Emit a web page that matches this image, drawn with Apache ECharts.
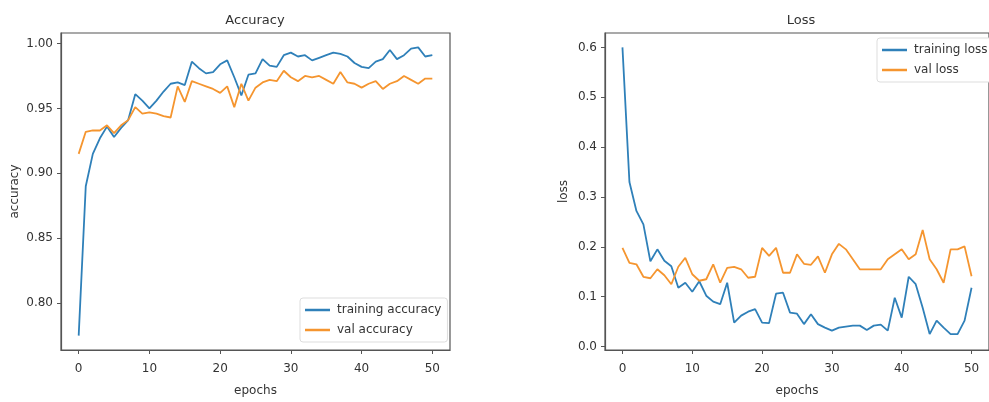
<!DOCTYPE html>
<html>
<head>
<meta charset="utf-8">
<script src="https://cdn.jsdelivr.net/npm/echarts@6/dist/echarts.min.js"></script>
<style>
    html, body { margin: 0; padding: 0; background: #fff; }
    #chart { width: 989px; height: 402px; }
</style>
</head>
<body>
<div id="chart"></div>
<script>
// epochs 0..50
const epochs = Array.from({ length: 51 }, (_, i) => i)

const trainAcc = [0.775, 0.890, 0.915, 0.927, 0.936, 0.928, 0.935, 0.941, 0.961, 0.956,
    0.950, 0.956, 0.963, 0.969, 0.970, 0.968, 0.986, 0.981, 0.977, 0.978,
    0.984, 0.987, 0.974, 0.960, 0.976, 0.977, 0.988, 0.983, 0.982, 0.991,
    0.993, 0.990, 0.991, 0.987, 0.989, 0.991, 0.993, 0.992, 0.990, 0.985,
    0.982, 0.981, 0.986, 0.988, 0.995, 0.988, 0.991, 0.996, 0.997, 0.990, 0.991]
const valAcc = [0.915, 0.932, 0.933, 0.933, 0.937, 0.931, 0.937, 0.941, 0.951, 0.946,
    0.947, 0.946, 0.944, 0.943, 0.967, 0.955, 0.971, 0.969, 0.967, 0.965,
    0.962, 0.967, 0.951, 0.969, 0.956, 0.966, 0.970, 0.972, 0.971, 0.979,
    0.974, 0.971, 0.975, 0.974, 0.975, 0.972, 0.969, 0.978, 0.970, 0.969,
    0.966, 0.969, 0.971, 0.965, 0.969, 0.971, 0.975, 0.972, 0.969, 0.973, 0.973]
const trainLoss = [0.600, 0.330, 0.272, 0.245, 0.171, 0.195, 0.172, 0.161, 0.118, 0.128,
    0.110, 0.131, 0.102, 0.090, 0.085, 0.128, 0.048, 0.062, 0.070, 0.075,
    0.048, 0.047, 0.106, 0.108, 0.068, 0.066, 0.045, 0.065, 0.045, 0.038,
    0.032, 0.038, 0.040, 0.042, 0.042, 0.033, 0.042, 0.044, 0.032, 0.098,
    0.058, 0.140, 0.125, 0.078, 0.025, 0.052, 0.038, 0.025, 0.025, 0.052, 0.118]
const valLoss = [0.198, 0.168, 0.165, 0.140, 0.137, 0.155, 0.143, 0.125, 0.160, 0.178,
    0.145, 0.132, 0.135, 0.165, 0.128, 0.158, 0.160, 0.155, 0.138, 0.140,
    0.198, 0.182, 0.198, 0.148, 0.148, 0.185, 0.166, 0.164, 0.181, 0.148,
    0.185, 0.206, 0.195, 0.175, 0.155, 0.155, 0.155, 0.155, 0.175, 0.185,
    0.195, 0.175, 0.185, 0.234, 0.175, 0.155, 0.128, 0.195, 0.195, 0.201, 0.141]

const xTicks = [0, 10, 20, 30, 40, 50]
const accTicks = [0.80, 0.85, 0.90, 0.95, 1.00]
const lossTicks = [0.0, 0.1, 0.2, 0.3, 0.4, 0.5, 0.6]

const blue = '#2f80b9'
const orange = '#f5952f'
const axisColor = '#555'
const fontColor = '#333'
const font = 'DejaVu Sans'

const pairs = arr => arr.map((v, i) => [epochs[i], v])

function xAxisOpt(gridIndex) {
    return {
        type: 'value',
        gridIndex: gridIndex,
        min: -2.5,
        max: 52.5,
        name: 'epochs',
        nameLocation: 'middle',
        nameGap: 35,
        nameTextStyle: { color: fontColor, fontSize: 12, fontFamily: font },
        axisLine: { show: true, onZero: false, lineStyle: { color: axisColor, width: 1.2 } },
        axisTick: { show: true, length: 4, customValues: xTicks, lineStyle: { color: axisColor } },
        axisLabel: { customValues: xTicks, margin: 13, color: fontColor, fontSize: 12, fontFamily: font },
        splitLine: { show: false }
    }
}

function yAxisOpt(gridIndex, name, min, max, ticks, digits, gap) {
    return {
        type: 'value',
        gridIndex: gridIndex,
        min: min,
        max: max,
        name: name,
        nameLocation: 'middle',
        nameGap: gap,
        nameRotate: 90,
        nameTextStyle: { color: fontColor, fontSize: 12, fontFamily: font },
        axisLine: { show: true, onZero: false, lineStyle: { color: axisColor, width: 1.2 } },
        axisTick: { show: true, length: 4, customValues: ticks, lineStyle: { color: axisColor } },
        axisLabel: {
            customValues: ticks,
            margin: 8,
            color: fontColor,
            fontSize: 12,
            fontFamily: font,
            formatter: v => v.toFixed(digits)
        },
        splitLine: { show: false }
    }
}

function lineSeries(name, data, color, idx) {
    return {
        name: name,
        type: 'line',
        xAxisIndex: idx,
        yAxisIndex: idx,
        data: pairs(data),
        showSymbol: false,
        symbol: 'none',
        lineStyle: { color: color, width: 1.8 },
        itemStyle: { color: color },
        animation: false
    }
}

function legendOpt(names, left, top) {
    return {
        data: names,
        orient: 'vertical',
        left: left,
        top: top,
        icon: 'rect',
        itemWidth: 25,
        itemHeight: 2.5,
        itemGap: 8,
        padding: [6, 6, 6, 5],
        backgroundColor: '#fff',
        borderColor: '#ddd',
        borderWidth: 1,
        borderRadius: 3,
        textStyle: { color: fontColor, fontSize: 12, fontFamily: font, padding: [0, 0, 0, 2] }
    }
}

const myChart = echarts.init(document.getElementById('chart'))

const option = {
    backgroundColor: '#fff',
    animation: false,
    title: [
        { text: 'Accuracy', left: 255, top: 14, textAlign: 'center', padding: 0,
          textStyle: { color: fontColor, fontSize: 13, fontWeight: 'normal', fontFamily: font } },
        { text: 'Loss', left: 801, top: 14, textAlign: 'center', padding: 0,
          textStyle: { color: fontColor, fontSize: 13, fontWeight: 'normal', fontFamily: font } }
    ],
    grid: [
        { left: 61, top: 33, width: 389, height: 320, show: true, borderColor: axisColor, borderWidth: 1.2, backgroundColor: 'transparent' },
        { left: 605, top: 33, width: 393, height: 320, show: true, borderColor: axisColor, borderWidth: 1.2, backgroundColor: 'transparent' }
    ],
    legend: [
        legendOpt(['training accuracy', 'val accuracy'], 300, 298),
        legendOpt(['training loss', 'val loss'], 877, 38)
    ],
    xAxis: [xAxisOpt(0), xAxisOpt(1)],
    yAxis: [
        yAxisOpt(0, 'accuracy', 0.7639, 1.0081, accTicks, 2, 40),
        yAxisOpt(1, 'loss', -0.0069, 0.6289, lossTicks, 1, 35)
    ],
    series: [
        lineSeries('training accuracy', trainAcc, blue, 0),
        lineSeries('val accuracy', valAcc, orange, 0),
        lineSeries('training loss', trainLoss, blue, 1),
        lineSeries('val loss', valLoss, orange, 1)
    ]
}
myChart.setOption(option)
</script>
</body>
</html>
